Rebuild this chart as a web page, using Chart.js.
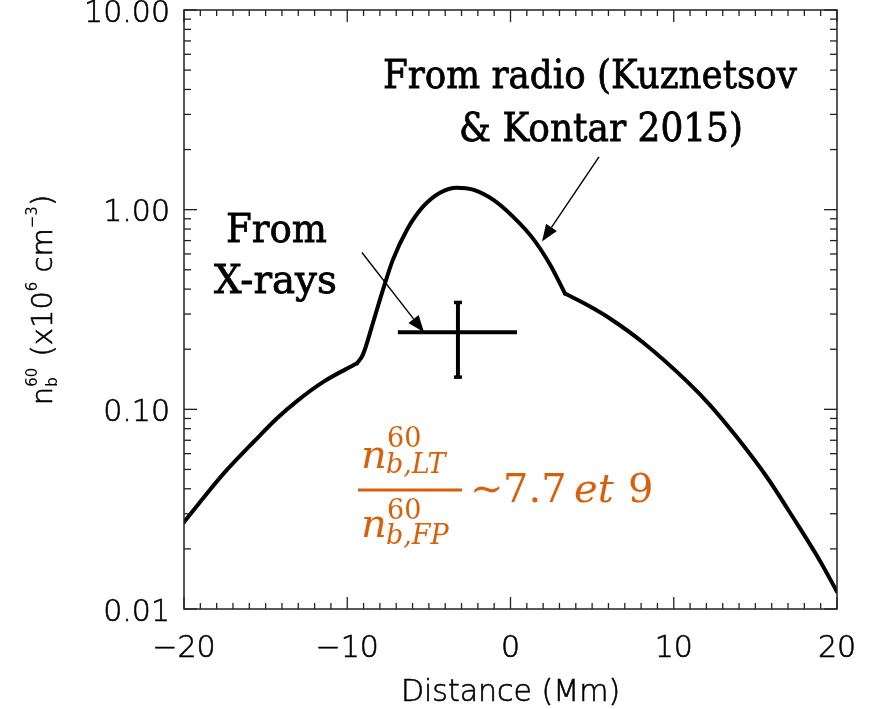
<!DOCTYPE html>
<html>
<head>
<meta charset="utf-8">
<script src="https://cdn.jsdelivr.net/npm/chart.js@4.4.1/dist/chart.umd.min.js"></script>
<style>
  html, body { margin: 0; padding: 0; background: #fff; }
  canvas { display: block; }
</style>
</head>
<body>
<canvas id="chart" width="870" height="709"></canvas>
<script>
// Beam density profile along the loop, derived from radio (Kuznetsov & Kontar 2015)
const distanceMm = [-20, -18.78, -17.55, -15.71, -14.30, -13.08, -11.42, -9.40,
  -9.04, -8.42, -7.81, -7.20, -6.34, -5.36, -4.32, -3.28, -2.30, -1.07, 0.15,
  1.38, 2.42, 3.34, 4.87, 6.09, 8.12, 10.81, 12.22, 13.87, 15.71, 17.30, 18.96, 20];
const densityRadio = [0.0272, 0.0363, 0.0479, 0.0690, 0.0902, 0.110, 0.138, 0.170,
  0.188, 0.272, 0.398, 0.562, 0.794, 1.035, 1.216, 1.288, 1.259, 1.122, 0.923,
  0.716, 0.531, 0.380, 0.327, 0.285, 0.216, 0.138, 0.105, 0.0724, 0.0457, 0.0288, 0.0174, 0.0122];
// indices where the profile has a sharp break in slope
const breakIndices = [7, 21];

// X-ray estimate with its uncertainty range
const xrayDistance = [-6.9, -3.22, 0.4];     // low, centre, high (Mm)
const xrayDensity = [0.145, 0.243, 0.343];   // low, centre, high

// Axis ticks
const xTickValues = [-20, -10, 0, 10, 20];
const yTickValues = [0.01, 0.1, 1, 10];
const yTickLabels = ['0.01', '0.10', '1.00', '10.00'];

const AXIS_FONT = '"DejaVu Sans"';
const AXIS_WEIGHT = '200';
const INK = '#000';
const ORANGE = '#d9600b';

const profilePoints = distanceMm.map((x, i) => ({ x, y: densityRadio[i] }));
// smooth pieces joined at the slope breaks
const profilePieces = [
  profilePoints.slice(0, breakIndices[0] + 1),
  profilePoints.slice(breakIndices[0], breakIndices[1] + 1),
  profilePoints.slice(breakIndices[1])
];

function line(ctx, x1, y1, x2, y2) {
  ctx.beginPath(); ctx.moveTo(x1, y1); ctx.lineTo(x2, y2); ctx.stroke();
}

function arrow(ctx, x1, y1, x2, y2) {
  const ang = Math.atan2(y2 - y1, x2 - x1);
  const len = 17, half = 6.5;
  const bx = x2 - len * Math.cos(ang), by = y2 - len * Math.sin(ang);
  ctx.lineWidth = 1.4;
  line(ctx, x1, y1, bx, by);
  ctx.beginPath();
  ctx.moveTo(x2, y2);
  ctx.lineTo(bx + half * Math.sin(ang), by - half * Math.cos(ang));
  ctx.lineTo(bx - half * Math.sin(ang), by + half * Math.cos(ang));
  ctx.closePath();
  ctx.fill();
}

// Text squeezed horizontally so it spans [left, right]
function fitText(ctx, text, left, right, baseline, font) {
  ctx.font = font;
  const w = ctx.measureText(text).width;
  const s = (right - left) / w;
  ctx.save();
  ctx.translate(left, baseline);
  ctx.scale(s, 1);
  ctx.textAlign = 'left';
  ctx.textBaseline = 'alphabetic';
  ctx.lineWidth = 0.8;
  ctx.fillText(text, 0, 0);
  ctx.strokeText(text, 0, 0);
  ctx.restore();
}

// thin axis text given a touch more weight
function axisText(ctx, text, x, y, font) {
  ctx.font = font;
  ctx.lineWidth = 0.6;
  ctx.fillText(text, x, y);
  ctx.strokeText(text, x, y);
}

const framePlugin = {
  id: 'frame',
  afterDraw(chart) {
    const { ctx, chartArea: a, scales: { x, y } } = chart;
    ctx.save();
    // box and inward ticks on all four sides
    ctx.strokeStyle = '#222';
    ctx.lineWidth = 1.5;
    ctx.strokeRect(a.left, a.top, a.right - a.left, a.bottom - a.top);
    ctx.lineWidth = 1.3;
    for (let v = -20; v <= 20; v++) {
      const px = x.getPixelForValue(v);
      const L = v % 10 === 0 ? 12 : 6;
      line(ctx, px, a.bottom, px, a.bottom - L);
      line(ctx, px, a.top, px, a.top + L);
    }
    for (let e = -2; e <= 1; e++) {
      for (let k = 1; k <= 9; k++) {
        const v = k * Math.pow(10, e);
        if (v > 10.0001) break;
        const py = y.getPixelForValue(v);
        const L = k === 1 ? 13 : 7;
        line(ctx, a.left, py, a.left + L, py);
        line(ctx, a.right, py, a.right - L, py);
      }
    }

    ctx.fillStyle = INK;
    ctx.strokeStyle = INK;

    // x-axis title
    ctx.textAlign = 'center';
    ctx.textBaseline = 'alphabetic';
    axisText(ctx, 'Distance (Mm)', (a.left + a.right) / 2, 701, `${AXIS_WEIGHT} 30px ${AXIS_FONT}`);

    // y-axis title with sub/superscripts, rotated
    ctx.save();
    ctx.translate(42, 300);
    ctx.rotate(-Math.PI / 2);
    ctx.textBaseline = 'alphabetic';
    ctx.textAlign = 'left';
    const big = `${AXIS_WEIGHT} 29px ${AXIS_FONT}`, small = `400 15px ${AXIS_FONT}`;
    const parts = [
      { t: 'n', f: big, dy: 0 },
      { stack: true, sup: '60', sub: 'b' },
      { t: ' (x10', f: big, dy: 0 },
      { t: '6', f: small, dy: -15 },
      { t: ' cm', f: big, dy: 0 },
      { t: '\u22123', f: small, dy: -15 },
      { t: ')', f: big, dy: 0 }
    ];
    let total = 0;
    const widths = parts.map(p => {
      let w;
      if (p.stack) {
        ctx.font = small;
        w = Math.max(ctx.measureText(p.sup).width, ctx.measureText(p.sub).width) + 2;
      } else {
        ctx.font = p.f; w = ctx.measureText(p.t).width;
      }
      total += w; return w;
    });
    let cx = -total / 2;
    const base = 10;
    parts.forEach((p, i) => {
      if (p.stack) {
        ctx.font = small;
        ctx.fillText(p.sup, cx, base - 15);
        ctx.fillText(p.sub, cx, base + 5);
      } else if (p.f === big) {
        axisText(ctx, p.t, cx, base + p.dy, p.f);
      } else {
        ctx.font = p.f;
        ctx.fillText(p.t, cx, base + p.dy);
      }
      cx += widths[i];
    });
    ctx.restore();

    // annotations
    const serif = '400 40px "DejaVu Serif"';
    fitText(ctx, 'From radio (Kuznetsov', 383, 797, 88, serif);
    fitText(ctx, '& Kontar 2015)', 459, 743, 141, serif);
    fitText(ctx, 'From', 226, 327, 242, serif);
    fitText(ctx, 'X-rays', 214, 337, 293, serif);

    arrow(ctx, x.getPixelForValue(5.42), y.getPixelForValue(1.84),
               x.getPixelForValue(1.93), y.getPixelForValue(0.692));
    arrow(ctx, x.getPixelForValue(-9.10), y.getPixelForValue(0.61),
               x.getPixelForValue(-5.30), y.getPixelForValue(xrayDensity[1]));

    // ratio formula
    ctx.fillStyle = ORANGE;
    ctx.strokeStyle = ORANGE;
    ctx.textAlign = 'left';
    ctx.textBaseline = 'alphabetic';
    const it = 'italic 400 40px "DejaVu Serif"';
    const itS = 'italic 400 27px "DejaVu Serif"';
    const upS = '400 27px "DejaVu Serif"';
    const up = '400 40px "DejaVu Serif"';
    ctx.font = it; ctx.fillText('n', 361, 468);
    ctx.font = upS; ctx.fillText('60', 387, 447);
    ctx.font = itS; ctx.fillText('b,LT', 386, 473);
    ctx.lineWidth = 3;
    line(ctx, 358, 490, 462, 490);
    ctx.font = it; ctx.fillText('n', 361, 537);
    ctx.font = upS; ctx.fillText('60', 387, 519);
    ctx.font = itS; ctx.fillText('b,FP', 386, 544);
    ctx.font = up; ctx.fillText('\u223C', 470, 502);
    ctx.fillText('7.7', 503, 502);
    ctx.font = it; ctx.fillText('et', 574, 502);
    ctx.font = up; ctx.fillText('9', 628, 502);
    ctx.restore();
  }
};

const profileStyle = {
  showLine: true,
  borderColor: INK,
  borderWidth: 4,
  pointRadius: 0,
  cubicInterpolationMode: 'monotone',
  borderJoinStyle: 'round',
  borderCapStyle: 'round'
};

const tickFont = { family: AXIS_FONT, size: 30, weight: AXIS_WEIGHT };

new Chart(document.getElementById('chart').getContext('2d'), {
  type: 'scatter',
  data: {
    datasets: [
      ...profilePieces.map(piece => Object.assign({ data: piece }, profileStyle)),
      {
        data: [{ x: xrayDistance[0], y: xrayDensity[1] }, { x: xrayDistance[2], y: xrayDensity[1] }],
        showLine: true,
        borderColor: INK,
        borderWidth: 4,
        pointRadius: 0
      },
      {
        data: [{ x: xrayDistance[1], y: xrayDensity[0] }, { x: xrayDistance[1], y: xrayDensity[2] }],
        showLine: true,
        borderColor: INK,
        borderWidth: 4,
        pointStyle: 'line',
        pointRadius: 4,
        pointBorderWidth: 3.5,
        pointBorderColor: INK,
        pointBackgroundColor: INK
      }
    ]
  },
  options: {
    responsive: false,
    animation: false,
    devicePixelRatio: 1,
    layout: { padding: { top: 10, right: 33, left: 0, bottom: 0 } },
    plugins: { legend: { display: false }, tooltip: { enabled: false } },
    scales: {
      x: {
        type: 'linear',
        min: -20,
        max: 20,
        grid: { display: false, drawTicks: false },
        border: { display: false },
        afterBuildTicks(s) { s.ticks = xTickValues.map(v => ({ value: v })); },
        ticks: {
          color: INK,
          textStrokeColor: INK,
          textStrokeWidth: 0.6,
          font: tickFont,
          padding: 22,
          maxRotation: 0,
          callback: v => (v < 0 ? '\u2212' + Math.abs(v) : String(v))
        },
        afterFit(s) { s.height = 100; s.paddingLeft = 0; s.paddingRight = 0; }
      },
      y: {
        type: 'logarithmic',
        min: 0.01,
        max: 10,
        grid: { display: false, drawTicks: false },
        border: { display: false },
        afterBuildTicks(s) { s.ticks = yTickValues.map(v => ({ value: v })); },
        ticks: {
          color: INK,
          textStrokeColor: INK,
          textStrokeWidth: 0.6,
          font: tickFont,
          padding: 14,
          labelOffset: 4,
          callback: (v) => {
            const i = yTickValues.findIndex(t => Math.abs(t - v) < 1e-9);
            return i >= 0 ? yTickLabels[i] : '';
          }
        },
        afterFit(s) { s.width = 184; s.paddingTop = 0; s.paddingBottom = 0; }
      }
    }
  },
  plugins: [framePlugin]
});
</script>
</body>
</html>
